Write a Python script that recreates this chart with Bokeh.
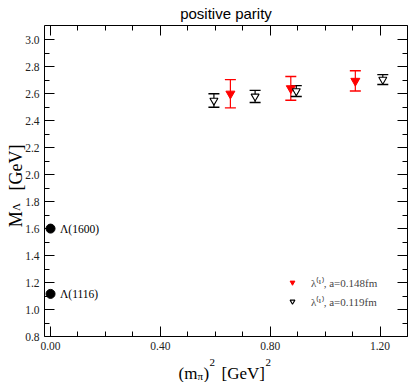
import math
from bokeh.plotting import figure
from bokeh.models import (ColumnDataSource, Whisker, TeeHead, LinearAxis, FixedTicker,
                          PrintfTickFormatter, Range1d, Label, LabelSet, Legend, LegendItem)
from bokeh.embed import file_html
from bokeh.resources import INLINE
from bokeh.core.properties import value

# ---- data ----
red_x = [0.655, 0.875, 1.11]
red_y = [2.60, 2.64, 2.695]
red_err = [0.105, 0.088, 0.075]

blk_x = [0.595, 0.745, 0.895, 1.21]
blk_y = [2.55, 2.58, 2.62, 2.705]
blk_err = [0.05, 0.045, 0.04, 0.037]

exp_x = [0.0, 0.0]
exp_mass = [1.600, 1.116]
exp_names = ["Λ(1600)", "Λ(1116)"]

x_major = [0.0, 0.4, 0.8, 1.2]
x_minor = [0.1, 0.2, 0.3, 0.5, 0.6, 0.7, 0.9, 1.0, 1.1, 1.3]
y_major = [0.8, 1.0, 1.2, 1.4, 1.6, 1.8, 2.0, 2.2, 2.4, 2.6, 2.8, 3.0]
y_minor = [0.9, 1.1, 1.3, 1.5, 1.7, 1.9, 2.1, 2.3, 2.5, 2.7, 2.9]

# axis box limits (data units)
X0, X1 = -0.022, 1.30
Y0, Y1 = 0.8, 3.106

SERIF = "Liberation Serif"
SANS = "Liberation Sans"

W, H = 409, 382
BOX_L, BOX_R, BOX_T, BOX_B = 44, 407, 25, 336   # pixel box of the axes
kx = (BOX_R - BOX_L) / (X1 - X0)
ky = (BOX_B - BOX_T) / (Y1 - Y0)
xr = Range1d(X0 - BOX_L / kx, X1 + (W - BOX_R) / kx)
yr = Range1d(Y0 - (H - BOX_B) / ky, Y1 + BOX_T / ky)

p = figure(width=W, height=H, output_backend="svg", toolbar_location=None,
           x_range=xr, y_range=yr, x_axis_type=None, y_axis_type=None,
           min_border=0)
p.title.visible = False
p.outline_line_color = None
p.background_fill_color = "white"
p.border_fill_color = "white"


def make_axis(ticks, minors, fmt, show, loc, bounds):
    ax = LinearAxis(ticker=FixedTicker(ticks=ticks, minor_ticks=minors),
                    formatter=PrintfTickFormatter(format=fmt),
                    fixed_location=loc, bounds=bounds,
                    major_tick_in=10, major_tick_out=0,
                    minor_tick_in=5, minor_tick_out=0,
                    axis_line_color="black", major_tick_line_color="black",
                    minor_tick_line_color="black",
                    major_label_text_font=SERIF,
                    major_label_text_font_size="11.5px",
                    major_label_text_color="#222222",
                    major_label_standoff=5)
    if not show:
        ax.major_label_overrides = {t: "" for t in ticks}
    return ax


p.add_layout(make_axis(x_major, x_minor, "%.2f", True, Y0, (X0, X1)), "below")
p.add_layout(make_axis(x_major, x_minor, "%.2f", False, Y1, (X0, X1)), "above")
p.add_layout(make_axis(y_major, y_minor, "%.1f", True, X0, (Y0, Y1)), "left")
p.add_layout(make_axis(y_major, y_minor, "%.1f", False, X1, (Y0, Y1)), "right")

# ---- lattice data ----
red_src = ColumnDataSource(dict(x=red_x, y=red_y,
                                lo=[a - b for a, b in zip(red_y, red_err)],
                                hi=[a + b for a, b in zip(red_y, red_err)]))
blk_src = ColumnDataSource(dict(x=blk_x, y=blk_y,
                                lo=[a - b for a, b in zip(blk_y, blk_err)],
                                hi=[a + b for a, b in zip(blk_y, blk_err)]))

for src, col in ((red_src, "red"), (blk_src, "black")):
    w = Whisker(source=src, base="x", lower="lo", upper="hi", dimension="height",
                line_color=col, line_width=1.2,
                upper_head=TeeHead(size=11, line_color=col, line_width=1.4),
                lower_head=TeeHead(size=11, line_color=col, line_width=1.4))
    p.add_layout(w)

r_red = p.scatter("x", "y", source=red_src, marker="inverted_triangle", size=9,
                  fill_color="red", line_color="red")
r_blk = p.scatter("x", "y", source=blk_src, marker="inverted_triangle", size=8,
                  fill_color="white", line_color="black", line_width=1.1)

# ---- experimental states ----
exp_src = ColumnDataSource(dict(x=exp_x, y=exp_mass, name=exp_names))
p.scatter("x", "y", source=exp_src, size=9, fill_color="black", line_color="black")
p.add_layout(LabelSet(x="x", y="y", text="name", source=exp_src, x_offset=9.5,
                      text_baseline="middle", text_font=value(SERIF),
                      text_font_size="11.5px", text_color="black"))

# ---- legend ----
legend = Legend(items=[LegendItem(label="λ⁽¹⁾, a=0.148fm", renderers=[r_red]),
                       LegendItem(label="λ⁽¹⁾, a=0.119fm", renderers=[r_blk])],
                location=(286, 73), padding=0, margin=0, spacing=3,
                glyph_width=12, glyph_height=16, label_height=16, label_standoff=13,
                border_line_color=None, background_fill_alpha=0,
                label_text_font=SERIF, label_text_font_size="11px")
p.add_layout(legend)


# ---- title and axis labels (screen units, origin bottom-left) ----
def lab(text, x, y, size, font=SERIF, angle=0, align="left"):
    p.add_layout(Label(x=x, y=y, x_units="screen", y_units="screen", text=text,
                       text_font=font, text_font_size=size, angle=angle,
                       text_align=align, text_baseline="alphabetic",
                       text_color="black"))


lab("positive parity", 225.5, 369.5, "15px", font=SANS, align="center")

# x-axis label: (m_pi)^2 [GeV]^2
lab("(m", 178.0, 9.3, "17px")
lab("π", 197.0, 6.5, "11px")
lab(")", 203.0, 9.3, "17px")
lab("2", 209.0, 20.3, "11px")
lab("[GeV]", 221.0, 9.3, "17px")
lab("2", 265.0, 20.3, "11px")

# y-axis label: M_Lambda [GeV]
A = math.pi / 2
lab("M", 15, 155.3, "18px", angle=A)
lab("Λ", 15.5, 171.5, "11px", angle=A)
lab("[GeV]", 15, 192, "18px", angle=A)

open("out.html", "w").write(file_html(p, INLINE))
